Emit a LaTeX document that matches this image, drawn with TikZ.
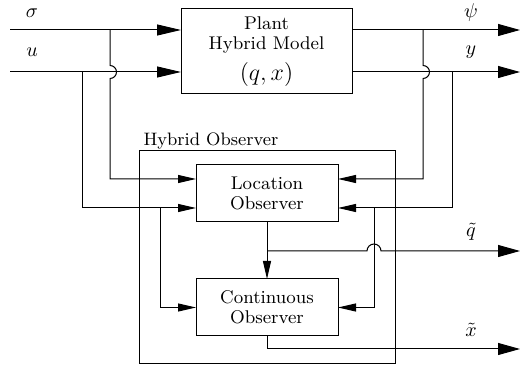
\documentclass[tikz,border=0pt]{standalone}
\usetikzlibrary{arrows.meta,calc}
\begin{document}
\begin{tikzpicture}[x=0.5pt,y=-0.5pt,line width=0.5pt,
  blk/.style={draw,rectangle,inner sep=0pt,outer sep=0pt,align=center,
    font=\fontsize{9.2}{10}\selectfont},
  bigarr/.style={-{Triangle[length=12pt,width=5.5pt]}},
  smarr/.style={-{Triangle[length=9pt,width=4pt]}},
  outarr/.style={-{Triangle[length=11pt,width=6pt]}},
  lab/.style={inner sep=0pt,font=\fontsize{10}{12}\selectfont}]
\useasboundingbox (0,0) rectangle (520,373);
% boxes
\node[blk,minimum width=85.5pt,minimum height=42.5pt] (plant) at (266.5,51.5)
  {Plant\\Hybrid Model\\[3.5pt]{\fontsize{12.5}{13}\selectfont$(q,x)$}};
\node[draw,rectangle,inner sep=0pt,outer sep=0pt,minimum width=128pt,minimum height=106.5pt] (hyb) at (267,257.5) {};
\node[anchor=base west,inner sep=0pt,font=\fontsize{9}{10}\selectfont] (hyblab) at (143,146) {Hybrid Observer};
\node[blk,minimum width=71pt,minimum height=28.5pt] (loc) at (267,193.5) {Location\\Observer};
\node[blk,minimum width=71pt,minimum height=28.5pt] (cont) at (267,307.5) {Continuous\\Observer};
% terminals
\coordinate (sig) at (10,30);
\coordinate (uin) at (10,72);
\coordinate (psi) at (520,30);
\coordinate (yout) at (520,72);
\coordinate (qout) at (520,251);
\coordinate (xout) at (520,349);
\coordinate (bs) at (110,30);
\coordinate (bu) at (82,72);
\coordinate (bu2) at (160,208);
\coordinate (bp) at (423,30);
\coordinate (by) at (452,72);
\coordinate (by2) at (374,208);
\coordinate (bq) at (267,251);
% labels
\node[lab] (lsig) at (32,13) {$\sigma$};
\node[lab] (lu) at (32,52) {$u$};
\node[lab] (lpsi) at (471,13) {$\psi$};
\node[lab] (ly) at (471,52) {$y$};
\node[lab] (lq) at (471,232) {$\tilde q$};
\node[lab] (lx) at (471,330) {$\tilde x$};
% plant inputs / outputs
\draw[bigarr] (sig) -- (sig -| plant.west);
\draw[bigarr] (uin) -- (uin -| plant.west);
\draw[outarr] (plant.east |- sig) -- (psi);
\draw[outarr] (plant.east |- uin) -- (yout);
% feedback to location observer
\draw[smarr] (bs) -- ++(0,35.5) arc[start angle=90,end angle=-90,radius=3.25pt]
  |- ([yshift=7.25pt]loc.west);
\draw[smarr] (bu) |- ([yshift=-7.25pt]loc.west);
\draw[smarr] (bu2) |- (cont.west);
\draw[smarr] (bp) -- ++(0,35.5) arc[start angle=90,end angle=-90,radius=3.25pt]
  |- ([yshift=7.25pt]loc.east);
\draw[smarr] (by) |- ([yshift=-7.25pt]loc.east);
\draw[smarr] (by2) |- (cont.east);
\draw[smarr] (loc.south) -- (cont.north);
% outputs
\draw[outarr] (bq) -- (367,251) arc[start angle=180,end angle=0,radius=3.5pt] -- (qout);
\draw[outarr] (cont.south) |- (xout);
\end{tikzpicture}
\end{document}
